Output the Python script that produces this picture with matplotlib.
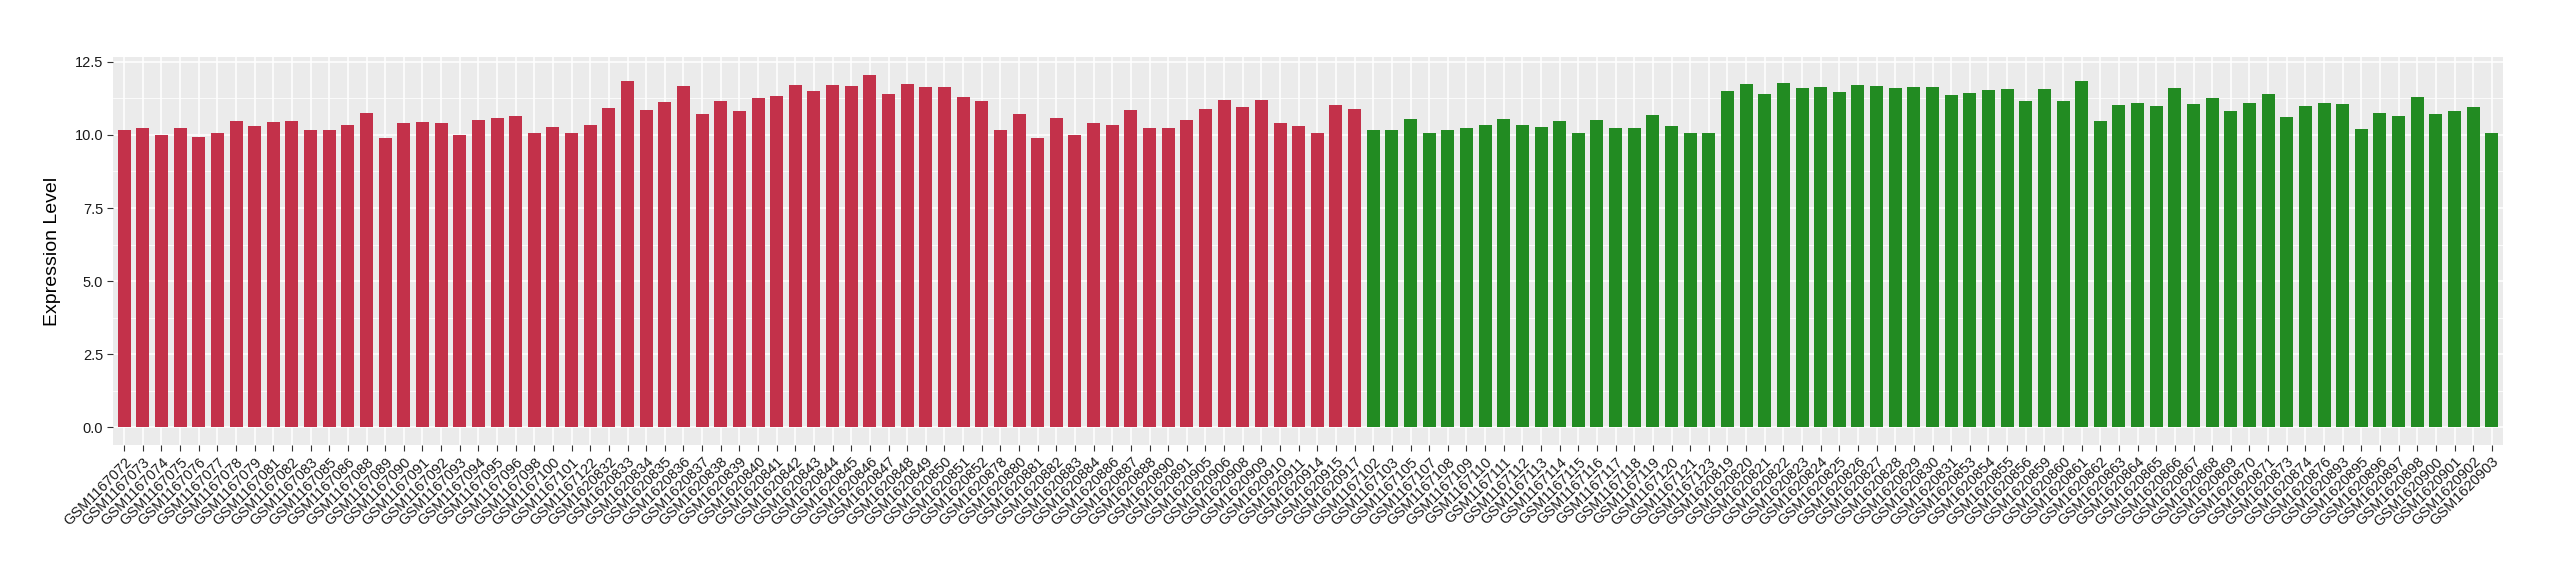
import matplotlib
matplotlib.use('Agg')
import matplotlib.pyplot as plt
import numpy as np

plt.rcParams['font.family'] = ['Liberation Sans', 'DejaVu Sans']

# sample ids, first group (red)
red_samples = [
    'GSM1167072', 'GSM1167073', 'GSM1167074', 'GSM1167075', 'GSM1167076',
    'GSM1167077', 'GSM1167078', 'GSM1167079', 'GSM1167081', 'GSM1167082',
    'GSM1167083', 'GSM1167085', 'GSM1167086', 'GSM1167088', 'GSM1167089',
    'GSM1167090', 'GSM1167091', 'GSM1167092', 'GSM1167093', 'GSM1167094',
    'GSM1167095', 'GSM1167096', 'GSM1167098', 'GSM1167100', 'GSM1167101',
    'GSM1167122', 'GSM1620832', 'GSM1620833', 'GSM1620834', 'GSM1620835',
    'GSM1620836', 'GSM1620837', 'GSM1620838', 'GSM1620839', 'GSM1620840',
    'GSM1620841', 'GSM1620842', 'GSM1620843', 'GSM1620844', 'GSM1620845',
    'GSM1620846', 'GSM1620847', 'GSM1620848', 'GSM1620849', 'GSM1620850',
    'GSM1620851', 'GSM1620852', 'GSM1620878', 'GSM1620880', 'GSM1620881',
    'GSM1620882', 'GSM1620883', 'GSM1620884', 'GSM1620886', 'GSM1620887',
    'GSM1620888', 'GSM1620890', 'GSM1620891', 'GSM1620905', 'GSM1620906',
    'GSM1620908', 'GSM1620909', 'GSM1620910', 'GSM1620911', 'GSM1620914',
    'GSM1620915', 'GSM1620917']
red_values = [
    10.15, 10.25, 10.01, 10.25, 9.94, 10.08, 10.49, 10.32, 10.45, 10.49,
    10.15, 10.15, 10.35, 10.76, 9.88, 10.39, 10.45, 10.39, 9.98, 10.52,
    10.59, 10.63, 10.08, 10.28, 10.05, 10.35, 10.93, 11.85, 10.86, 11.14,
    11.68, 10.73, 11.17, 10.83, 11.27, 11.34, 11.72, 11.51, 11.72, 11.68,
    12.06, 11.41, 11.75, 11.65, 11.65, 11.31, 11.17, 10.15, 10.73, 9.88,
    10.59, 9.98, 10.42, 10.35, 10.86, 10.25, 10.22, 10.52, 10.89, 11.20,
    10.97, 11.20, 10.42, 10.32, 10.05, 11.03, 10.89]

# second group (green)
green_samples = [
    'GSM1167102', 'GSM1167103', 'GSM1167105', 'GSM1167107', 'GSM1167108',
    'GSM1167109', 'GSM1167110', 'GSM1167111', 'GSM1167112', 'GSM1167113',
    'GSM1167114', 'GSM1167115', 'GSM1167116', 'GSM1167117', 'GSM1167118',
    'GSM1167119', 'GSM1167120', 'GSM1167121', 'GSM1167123', 'GSM1620819',
    'GSM1620820', 'GSM1620821', 'GSM1620822', 'GSM1620823', 'GSM1620824',
    'GSM1620825', 'GSM1620826', 'GSM1620827', 'GSM1620828', 'GSM1620829',
    'GSM1620830', 'GSM1620831', 'GSM1620853', 'GSM1620854', 'GSM1620855',
    'GSM1620856', 'GSM1620859', 'GSM1620860', 'GSM1620861', 'GSM1620862',
    'GSM1620863', 'GSM1620864', 'GSM1620865', 'GSM1620866', 'GSM1620867',
    'GSM1620868', 'GSM1620869', 'GSM1620870', 'GSM1620871', 'GSM1620873',
    'GSM1620874', 'GSM1620876', 'GSM1620893', 'GSM1620895', 'GSM1620896',
    'GSM1620897', 'GSM1620898', 'GSM1620900', 'GSM1620901', 'GSM1620902',
    'GSM1620903']
green_values = [
    10.18, 10.18, 10.56, 10.08, 10.15, 10.22, 10.35, 10.56, 10.35, 10.28,
    10.49, 10.05, 10.52, 10.25, 10.25, 10.69, 10.32, 10.05, 10.05, 11.51,
    11.75, 11.41, 11.78, 11.61, 11.65, 11.48, 11.72, 11.68, 11.61, 11.65,
    11.65, 11.38, 11.44, 11.55, 11.58, 11.17, 11.58, 11.17, 11.85, 10.49,
    11.03, 11.10, 11.00, 11.60, 11.05, 11.25, 10.80, 11.10, 11.40, 10.60,
    11.00, 11.10, 11.05, 10.20, 10.75, 10.65, 11.30, 10.70, 10.80, 10.95,
    10.05]

y_ticks = [0, 2.5, 5, 7.5, 10, 12.5]

red_col = '#C3314A'
green_col = '#228B22'

samples = red_samples + green_samples
values = red_values + green_values
colors = [red_col] * len(red_values) + [green_col] * len(green_values)
x = np.arange(1, len(samples) + 1)

fig = plt.figure(figsize=(25.6, 5.8), dpi=100)
ax = fig.add_axes([113 / 2560, 1 - 445 / 580, (2503 - 113) / 2560, (445 - 57) / 580])

ax.set_facecolor('#EBEBEB')
ax.bar(x, values, width=0.7, color=colors, zorder=3)

# ggplot-ish expansion
ax.set_xlim(0.4, len(samples) + 0.6)
pad = 0.05 * max(values)
ax.set_ylim(-pad, max(values) + pad)

ax.set_yticks(y_ticks)
ax.set_yticklabels(['%.1f' % t for t in y_ticks])
ax.set_yticks(np.arange(1.25, 12.5, 2.5), minor=True)
ax.set_xticks(x)
ax.set_xticklabels(samples, rotation=45, ha='right', va='top',
                   rotation_mode='anchor', fontsize=10.5, color='#1A1A1A')

ax.grid(which='major', color='white', linewidth=1.1, zorder=0)
ax.grid(which='minor', axis='y', color='white', linewidth=0.55, zorder=0)
ax.set_axisbelow(True)
for s in ax.spines.values():
    s.set_visible(False)

ax.tick_params(axis='both', which='major', length=4, width=0.8, color='#333333', pad=3)
ax.tick_params(axis='y', labelsize=10.5, labelcolor='#1A1A1A')
ax.tick_params(which='minor', length=0)

ax.set_ylabel('Expression Level', fontsize=14, labelpad=10)

fig.savefig('out.png', dpi=100)
